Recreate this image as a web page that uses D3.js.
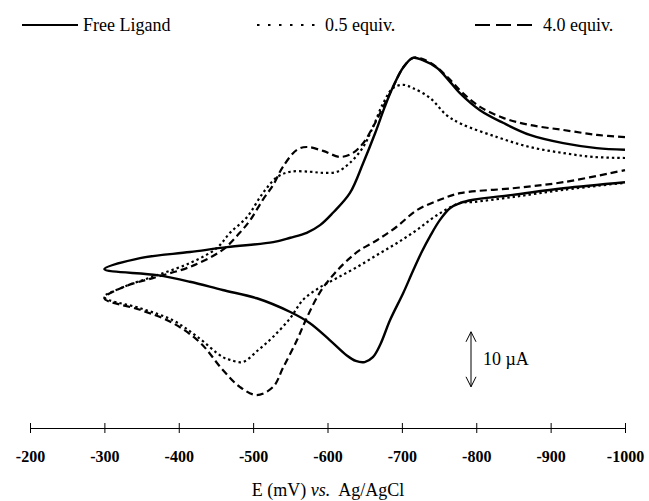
<!DOCTYPE html>
<html>
<head>
<meta charset="utf-8">
<script src="https://cdn.jsdelivr.net/npm/d3@7"></script>
<style>
  body { margin: 0; background: #fff; }
  svg { display: block; font-family: "Liberation Serif", "Times New Roman", serif; }
</style>
</head>
<body>
<svg id="chart" width="649" height="501"></svg>
<script>
// E (mV) vs. current (uA), one array per branch
var freeUpper = [[-300,-0.2],[-348,1.8],[-415,2.9],[-465,3.8],[-527,4.7],[-550,5.5],[-572,6.4],[-590,7.8],[-607,10.0],[-630,13.6],[-648,19.1],[-664,24.5],[-677,29.3],[-688,32.9],[-702,36.5],[-715,38.2],[-728,37.8],[-747,36.4],[-765,33.8],[-778,31.8],[-805,28.7],[-836,26.4],[-872,24.2],[-917,22.7],[-962,21.8],[-1000,21.5]];
var freeLower = [[-300,-0.2],[-371,-1.3],[-415,-2.5],[-459,-4.0],[-505,-5.5],[-550,-8.0],[-576,-10.0],[-603,-13.1],[-626,-15.9],[-638,-16.9],[-650,-17.1],[-661,-16.2],[-671,-13.9],[-684,-9.5],[-702,-4.5],[-715,-0.5],[-727,3.0],[-738,5.8],[-751,8.7],[-765,10.9],[-778,11.8],[-796,12.4],[-849,13.3],[-917,14.5],[-1000,15.6]];

var halfUpper = [[-300,-5.3],[-325,-3.5],[-371,-1.3],[-415,0.9],[-451,3.6],[-469,6.4],[-492,9.3],[-513,13.6],[-532,16.5],[-550,17.5],[-576,17.5],[-594,17.3],[-613,17.5],[-630,19.1],[-648,22.0],[-661,25.6],[-675,30.0],[-688,32.7],[-702,33.3],[-715,32.7],[-738,30.9],[-760,27.8],[-780,26.2],[-828,23.8],[-872,22.0],[-917,20.9],[-957,20.2],[-1000,20.0]];
var halfLower = [[-300,-5.3],[-348,-7.3],[-392,-9.5],[-425,-12.5],[-459,-16.2],[-469,-16.7],[-486,-17.1],[-507,-14.9],[-527,-12.5],[-550,-9.1],[-567,-5.8],[-590,-3.5],[-613,-1.8],[-640,0.2],[-667,2.4],[-693,4.5],[-720,6.9],[-747,9.6],[-778,11.8],[-796,12.0],[-849,12.9],[-917,14.2],[-1000,15.5]];

var fourUpper = [[-300,-5.5],[-325,-3.5],[-371,-1.6],[-415,0.2],[-459,3.3],[-482,6.4],[-496,8.7],[-513,12.4],[-527,15.1],[-540,18.4],[-559,21.5],[-572,22.0],[-594,21.3],[-617,20.2],[-634,20.9],[-648,22.7],[-661,25.6],[-675,29.3],[-688,32.9],[-702,36.5],[-715,38.2],[-728,38.0],[-747,36.5],[-765,34.2],[-782,31.8],[-805,29.3],[-836,27.3],[-872,26.0],[-917,25.1],[-962,24.2],[-1000,23.8]];
var fourLower = [[-300,-5.5],[-348,-7.6],[-392,-10.0],[-429,-13.6],[-459,-18.5],[-482,-21.6],[-505,-23.1],[-527,-21.6],[-540,-18.2],[-559,-13.1],[-572,-9.1],[-590,-4.4],[-610,-0.9],[-630,1.8],[-644,3.3],[-667,5.1],[-693,7.5],[-720,10.5],[-751,12.4],[-778,13.6],[-849,14.5],[-917,15.6],[-1000,17.8]];

var seriesNames = ['Free Ligand', '0.5 equiv.', '4.0 equiv.'];
var potentialTicks = [-200, -300, -400, -500, -600, -700, -800, -900, -1000];
var scaleBarValue = 10; // uA

var svg = d3.select('#chart');

var x = d3.scaleLinear().domain([-200, -1000]).range([30, 625]);
var y = d3.scaleLinear().domain([-30, 40]).range([433, 48]);

var styles = [
  { dash: null, legendDash: null },
  { dash: '2.4,3', legendDash: '2.5,8.5' },
  { dash: '7,4', legendDash: '15,6' }
];

// one sweep per curve: back along the upper branch, out along the lower one
function sweep(upper, lower) {
  return upper.slice().reverse().concat(lower.slice(1));
}
var curves = [sweep(freeUpper, freeLower), sweep(halfUpper, halfLower), sweep(fourUpper, fourLower)];

var line = d3.line()
  .x(function (d) { return x(d[0]); })
  .y(function (d) { return y(d[1]); })
  .curve(d3.curveCatmullRom.alpha(0.5));

svg.append('g')
  .selectAll('path')
  .data(curves)
  .enter().append('path')
  .attr('d', line)
  .attr('fill', 'none')
  .attr('stroke', '#000')
  .attr('stroke-width', function (d, i) { return i === 0 ? 2.4 : 2.2; })
  .attr('stroke-linejoin', 'round')
  .attr('stroke-dasharray', function (d, i) { return styles[i].dash; });

// x axis
var axis = svg.append('g')
  .attr('transform', 'translate(0,428)')
  .call(d3.axisBottom(x)
    .tickValues(potentialTicks)
    .tickFormat(function (d) { return String(d); })
    .tickSizeOuter(0).tickSize(5));
axis.select('.domain').attr('stroke-width', 1);
axis.selectAll('.tick line').attr('y1', -5).attr('y2', 5);
axis.selectAll('.tick text')
  .attr('y', 34).attr('dy', 0)
  .attr('font-family', '"Liberation Serif", serif')
  .attr('font-size', 16)
  .attr('font-weight', 'bold')
  .attr('fill', '#000');

var title = svg.append('text')
  .attr('x', 328).attr('y', 496)
  .attr('text-anchor', 'middle')
  .attr('font-size', 18);
title.append('tspan').text('E (mV) ');
title.append('tspan').attr('font-style', 'italic').text('vs.');
title.append('tspan').attr('xml:space', 'preserve').text('  Ag/AgCl');

// scale bar
var barBottom = -21.6;
var bx = 471;
var bar = svg.append('g').attr('stroke', '#000').attr('stroke-width', 1).attr('fill', 'none');
bar.append('line').attr('x1', bx).attr('x2', bx).attr('y1', y(barBottom)).attr('y2', y(barBottom + scaleBarValue));
bar.append('path').attr('d', 'M' + (bx - 5) + ',' + (y(barBottom + scaleBarValue) + 10) + 'L' + bx + ',' + y(barBottom + scaleBarValue) + 'L' + (bx + 5) + ',' + (y(barBottom + scaleBarValue) + 10));
bar.append('path').attr('d', 'M' + (bx - 5) + ',' + (y(barBottom) - 10) + 'L' + bx + ',' + y(barBottom) + 'L' + (bx + 5) + ',' + (y(barBottom) - 10));
svg.append('text')
  .attr('x', 483).attr('y', (y(barBottom) + y(barBottom + scaleBarValue)) / 2 + 6)
  .attr('font-size', 18)
  .text(scaleBarValue + ' \u00b5A');

// legend
var legendX = [22, 257, 475];
var legendLen = [56, 65, 58];
var legend = svg.append('g').selectAll('g')
  .data(seriesNames)
  .enter().append('g')
  .attr('transform', function (d, i) { return 'translate(' + legendX[i] + ',25)'; });
legend.append('line')
  .attr('x1', 0).attr('x2', function (d, i) { return legendLen[i]; })
  .attr('stroke', '#000')
  .attr('stroke-width', function (d, i) { return i === 0 ? 1.8 : 2.2; })
  .attr('stroke-dasharray', function (d, i) { return styles[i].legendDash; });
legend.append('text')
  .attr('x', function (d, i) { return legendLen[i] + [5, 3, 10][i]; })
  .attr('y', 6)
  .attr('font-size', 18)
  .text(function (d) { return d; });
</script>
</body>
</html>
